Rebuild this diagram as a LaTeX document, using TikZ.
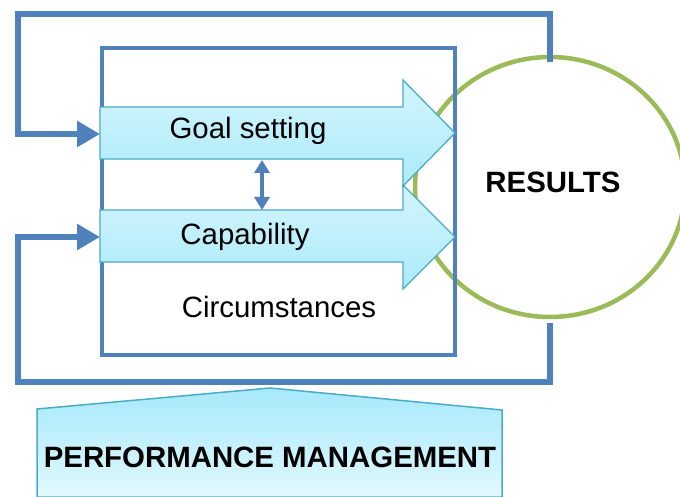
\documentclass[tikz,border=0pt]{standalone}
\usepackage{fontspec}
\setmainfont{Liberation Sans}
\usetikzlibrary{arrows.meta,shadings}
\definecolor{pmblue}{RGB}{79,129,189}
\definecolor{pmgreen}{RGB}{155,187,89}
\definecolor{pmteal}{RGB}{75,172,198}
\definecolor{arrtop}{RGB}{210,245,253}
\definecolor{arrbot}{RGB}{172,234,250}
\definecolor{pmtop}{RGB}{166,233,251}
\definecolor{pmbot}{RGB}{226,248,254}
\tikzset{
  loopline/.style={draw=pmblue,line width=6pt,line join=miter,-{Triangle[length=23pt,width=25pt]}},
  boxline/.style={draw=pmblue,line width=4pt},
  blockarrow/.style={draw=pmteal,line width=1.3pt,top color=arrtop,bottom color=arrbot},
  pmshape/.style={draw=pmteal,line width=1.5pt,top color=pmtop,bottom color=pmbot},
  dbl/.style={draw=pmblue,line width=4pt,{Triangle[length=13pt,width=15pt]}-{Triangle[length=13pt,width=15pt]}},
  lbl/.style={font=\fontsize{29.4}{35}\selectfont,inner sep=0pt},
  blbl/.style={font=\fontsize{29.4}{35}\selectfont\bfseries,inner sep=0pt}
}
\begin{document}
\begin{tikzpicture}[x=1pt,y=-1pt]
\useasboundingbox (0,0) rectangle (680,497);
\fill[white] (0,0) rectangle (680,497);
% results ellipse
\draw[pmgreen,line width=4.5pt] (550,187) ellipse [x radius=135,y radius=130];
% inner box
\draw[boxline] (102,48) rectangle (455,355);
% block arrows
\path[blockarrow] (100,107) -- (403,107) -- (403,80) -- (455,133) -- (403,186) -- (403,159) -- (100,159) -- cycle;
\path[blockarrow] (100,210) -- (403,210) -- (403,185) -- (455,237) -- (403,289) -- (403,262) -- (100,262) -- cycle;
% performance management shape
\path[pmshape] (37,497) -- (37,409) -- (270,388) -- (502,410) -- (502,497) -- cycle;
% named points
\coordinate (restop) at (550,62);
\coordinate (resbot) at (550,323);
\coordinate (tl) at (18,14);
\coordinate (bl) at (18,382);
\coordinate (goalin) at (100,134);
\coordinate (capin) at (100,237);
\coordinate (goalbot) at (262,160);
\coordinate (captop) at (262,210);
% texts
\node[lbl] (goal) at (248,131) {Goal setting};
\node[lbl] (cap) at (245,237) {Capability};
\node[lbl] (circ) at (279,307) {Circumstances};
\node[blbl] (res) at (553,182) {RESULTS};
\node[blbl] (pm) at (270,457) {PERFORMANCE MANAGEMENT};
% connectors
\draw[loopline] (restop) |- (tl) |- (goalin);
\draw[loopline] (resbot) |- (bl) |- (capin);
\draw[dbl] (goalbot) -- (captop);
\end{tikzpicture}
\end{document}
